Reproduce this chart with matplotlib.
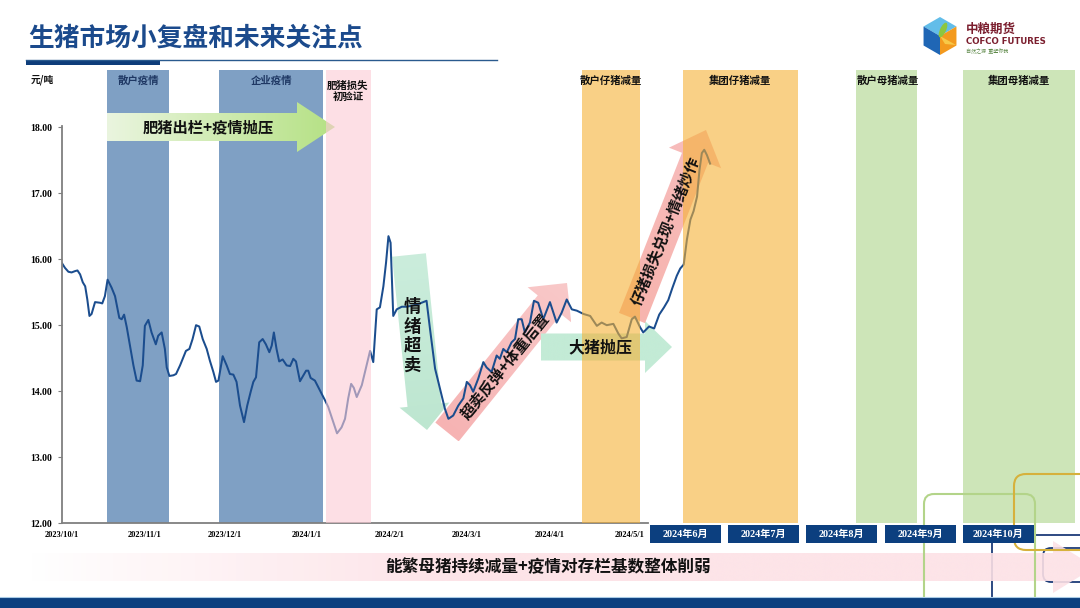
import numpy as np
import pandas as pd
import matplotlib
matplotlib.use('Agg')
import matplotlib.pyplot as plt
import matplotlib.dates as mdates
from matplotlib.patches import Polygon, Rectangle, FancyBboxPatch, Ellipse
from matplotlib.colors import to_rgb

plt.rcParams['font.family'] = ['Noto Sans CJK SC', 'DejaVu Sans']
SERIF = ['Liberation Serif', 'Noto Sans CJK SC']

# ---- data ----
start = pd.Timestamp('2023-10-01')
price_days = np.array([
    0, 1.1, 2.4, 3.6, 4.9, 5.8, 6.8, 7.8, 8.7, 9.5, 10.3, 11.1, 12.4, 14.3, 15.1, 16.1,
    17.1, 18.6, 19.9, 21.5, 22.4, 23.3, 24.3, 25.5, 26.8, 28.0, 29.3, 30.3, 31.1, 32.4,
    33.6, 35.2, 36.1, 37.4, 38.6, 39.3, 40.3, 41.8, 42.8, 44.3, 45.3, 46.5, 47.8, 49.0,
    50.3, 51.5, 52.8, 54.3, 55.5, 56.8, 57.8, 58.7, 60.3, 61.8, 63.0, 64.3, 65.5, 66.8,
    68.3, 69.5, 70.8, 71.8, 72.8, 74.0, 75.3, 76.5, 77.8, 78.7, 79.5, 80.5, 81.5, 82.8,
    84.3, 85.6, 86.8, 87.8, 89.3, 90.6, 91.6, 92.4, 93.3, 94.9, 96.8, 98.7, 99.9, 101.8,
    103.2, 104.9, 106.2, 107.4, 108.5, 109.5, 110.6, 112.5, 114.3, 115.6, 116.8, 118.1,
    119.3, 120.6, 121.6, 122.5, 123.3, 124.3, 125.6, 127.5, 129.3, 131.8, 134.3, 136.8,
    138.1, 140.0, 141.8, 143.7, 145.0, 146.8, 148.7, 150.6, 151.9, 153.1, 154.3, 156.2,
    158.1, 159.3, 161.2, 163.1, 164.3, 165.6, 166.9, 168.7, 170.0, 171.2, 172.5, 173.7,
    175.6, 177.1, 178.7, 180.6, 183.1, 185.6, 187.5, 189.4, 191.3, 193.2, 195.7, 198.2,
    200.7, 202.5, 204.4, 206.9, 208.8, 210.0, 211.9, 213.8, 215.0, 216.9, 218.1, 220.3,
    222.2, 224.1, 225.9, 227.5, 229.0, 230.7, 232.0, 233.3, 234.5, 235.8, 237.0, 238.3,
    239.2, 240.1, 241.0, 242.0, 243.2])
price_values = np.array([
    15.94, 15.87, 15.81, 15.80, 15.82, 15.83, 15.77, 15.65, 15.59, 15.39, 15.14, 15.17,
    15.35, 15.34, 15.33, 15.44, 15.69, 15.57, 15.44, 15.11, 15.09, 15.16, 14.97, 14.69,
    14.39, 14.16, 14.15, 14.39, 14.99, 15.08, 14.89, 14.71, 14.84, 14.89, 14.64, 14.36,
    14.23, 14.24, 14.26, 14.39, 14.49, 14.61, 14.64, 14.79, 15.00, 14.98, 14.79, 14.64,
    14.46, 14.29, 14.14, 14.16, 14.53, 14.39, 14.26, 14.25, 14.14, 13.78, 13.53, 13.78,
    13.99, 14.14, 14.21, 14.74, 14.79, 14.71, 14.59, 14.69, 14.89, 14.64, 14.45, 14.48,
    14.39, 14.38, 14.49, 14.45, 14.15, 14.24, 14.31, 14.31, 14.20, 14.16, 14.01, 13.86,
    13.76, 13.53, 13.36, 13.45, 13.58, 13.89, 14.11, 14.05, 13.91, 14.09, 14.39, 14.61,
    14.44, 15.24, 15.27, 15.59, 15.95, 16.35, 16.25, 15.14, 15.24, 15.28, 15.28, 15.30,
    15.33, 15.37, 14.94, 14.34, 14.04, 13.73, 13.58, 13.63, 13.78, 13.89, 14.14, 14.09,
    13.99, 14.19, 14.44, 14.36, 14.29, 14.54, 14.49, 14.64, 14.59, 14.74, 14.79, 15.09,
    15.09, 14.89, 15.04, 15.37, 15.34, 15.09, 15.35, 15.04, 15.19, 15.39, 15.24, 15.22,
    15.17, 15.14, 14.99, 15.04, 15.00, 15.02, 14.87, 14.80, 14.82, 15.09, 15.13, 14.97,
    14.89, 14.98, 14.95, 15.16, 15.27, 15.38, 15.56, 15.75, 15.86, 15.92, 16.30, 16.60,
    16.73, 16.95, 17.35, 17.61, 17.66, 17.58, 17.45])

tick_dates = ['2023-10-01', '2023-11-01', '2023-12-01', '2024-01-01',
              '2024-02-01', '2024-03-01', '2024-04-01', '2024-05-01']
tick_labels = ['2023/10/1', '2023/11/1', '2023/12/1', '2024/1/1',
               '2024/2/1', '2024/3/1', '2024/4/1', '2024/5/1']
y_ticks = [12, 13, 14, 15, 16, 17, 18]

band_start = ['2023-10-18', '2023-11-29', '2024-01-08', '2024-04-13',
              '2024-05-21', '2024-07-25', '2024-09-03']
band_end = ['2023-11-10', '2024-01-07', '2024-01-25', '2024-05-05',
            '2024-07-03', '2024-08-17', '2024-10-15']
band_labels = ['散户疫情', '企业疫情', '肥猪损失\n初验证', '散户仔猪减量',
               '集团仔猪减量', '散户母猪减量', '集团母猪减量']
band_kind = ['blue', 'blue', 'pink', 'orange', 'orange', 'green', 'green']

month_labels = ['2024年6月', '2024年7月', '2024年8月', '2024年9月', '2024年10月']

# ---- styling ----
band_color = {'blue': '#7fa0c4', 'pink': '#fccbd5', 'orange': '#f5b135', 'green': '#acd589'}
NAVY = '#0c3f7f'
LINE = '#1b4d8e'

W, H = 1080, 608
fig = plt.figure(figsize=(W / 100, H / 100), dpi=100)
fig.patch.set_facecolor('white')


def px_rect(x0, y0, x1, y1):
    return [x0 / W, 1 - y1 / H, (x1 - x0) / W, (y1 - y0) / H]


plot_rect = px_rect(62, 70, 1080, 523)
x_lo, x_hi = start, pd.Timestamp('2024-10-17')
y_lo, y_hi = 12, 18.87

ax_back = fig.add_axes(plot_rect, zorder=1)
ax_art = fig.add_axes([0, 0, 1, 1], zorder=2)
ax = fig.add_axes(plot_rect, zorder=3)
ax_top = fig.add_axes([0, 0, 1, 1], zorder=4)

# bands
for s, e, k in zip(band_start, band_end, band_kind):
    if k == 'blue':
        ax_back.axvspan(pd.Timestamp(s), pd.Timestamp(e), color=band_color[k], lw=0)
    else:
        ax.axvspan(pd.Timestamp(s), pd.Timestamp(e), color=band_color[k], alpha=0.6, lw=0, zorder=3)

# price line
dates = start + pd.to_timedelta(price_days, unit='D')
ax.plot(dates, price_values, color=LINE, lw=1.45, zorder=2)

for a in (ax_back, ax):
    a.set_xlim(x_lo, x_hi)
    a.set_ylim(y_lo, y_hi)
ax_back.set_axis_off()
ax.patch.set_visible(False)
for side in ('top', 'right'):
    ax.spines[side].set_visible(False)
for side in ('left', 'bottom'):
    ax.spines[side].set_color('#7f7f7f')
    ax.spines[side].set_linewidth(1.3)
ax.spines['bottom'].set_bounds(mdates.date2num(start), mdates.date2num(pd.Timestamp('2024-05-08')))
ax.spines['left'].set_bounds(12, 18.02)
ax.set_xticks(pd.to_datetime(tick_dates))
ax.set_xticklabels(tick_labels, fontfamily=SERIF, fontsize=6, fontweight='bold')
ax.set_yticks(y_ticks)
ax.set_yticklabels([f'{v:.2f}' for v in y_ticks], fontfamily=SERIF, fontsize=7, fontweight='bold')
ax.tick_params(axis='x', length=0, pad=6)
ax.tick_params(axis='y', length=3, width=0.8, color='#7f7f7f', pad=4)


# ---- arrows (pixel coordinates) ----
def arrow_verts(x0, y0, x1, y1, bw, hw, hl):
    d = np.array([x1 - x0, y1 - y0], float)
    u = d / np.hypot(*d)
    n = np.array([-u[1], u[0]])
    p0, p1 = np.array([x0, y0], float), np.array([x1, y1], float)
    neck = p1 - u * hl
    return np.array([p0 + n * bw / 2, neck + n * bw / 2, neck + n * hw / 2, p1,
                     neck - n * hw / 2, neck - n * bw / 2, p0 - n * bw / 2])


def grad_arrow(a, x0, y0, x1, y1, bw, hw, hl, c0, c1, ramp=1.0, alpha=1.0, z=1):
    v = arrow_verts(x0, y0, x1, y1, bw, hw, hl)
    poly = Polygon(v, closed=True, fc='none', ec='none', transform=a.transData)
    a.add_patch(poly)
    (xmn, ymn), (xmx, ymx) = v.min(0), v.max(0)
    X, Y = np.meshgrid(np.linspace(xmn, xmx, 300), np.linspace(ymn, ymx, 300))
    t = ((X - x0) * (x1 - x0) + (Y - y0) * (y1 - y0)) / ((x1 - x0) ** 2 + (y1 - y0) ** 2)
    t = np.clip(t * ramp, 0, 1)[..., None]
    img = np.array(to_rgb(c0)) * (1 - t) + np.array(to_rgb(c1)) * t
    im = a.imshow(img, extent=(xmn, xmx, ymx, ymn), origin='upper', aspect='auto',
                  alpha=alpha, zorder=z, interpolation='bilinear')
    im.set_clip_path(poly)


grad_arrow(ax_art, 107, 127, 335, 127, 28, 50, 38, '#eaf5df', '#b5e184')
grad_arrow(ax_art, 409, 255, 427, 430, 34, 50, 25, '#cbeddc', '#bde6d0')
grad_arrow(ax_art, 447, 432, 567, 283, 30, 56, 28, '#f6b3b3', '#f9c9c9')
grad_arrow(ax_art, 541, 347, 672, 347, 27, 52, 27, '#c3ebd6', '#c3ebd6')
grad_arrow(ax_art, 632, 318, 706, 130, 28, 56, 30, '#f7b4ae', '#f7bdbd')
ax_art.set_xlim(0, W)
ax_art.set_ylim(H, 0)
ax_art.set_axis_off()

# ---- top layer: texts and decorations ----
T = ax_top
grad_arrow(T, 30, 567, 1095, 567, 28, 52, 42, '#ffffff', '#fde1e6', ramp=2.6, alpha=0.9, z=2)

# decorative outlines bottom right
T.add_patch(FancyBboxPatch((992, 535), 150, 120, boxstyle='round,pad=0,rounding_size=8',
                           fc='none', ec='#1d3c78', lw=1.3, zorder=1))
T.add_patch(FancyBboxPatch((1043, 548), 90, 34, boxstyle='round,pad=0,rounding_size=8',
                           fc='none', ec='#1d3c78', lw=1.3, zorder=1))
T.add_patch(FancyBboxPatch((924, 494), 111, 150, boxstyle='round,pad=0,rounding_size=10',
                           fc='none', ec='#b3d489', lw=1.5, zorder=4))
T.add_patch(FancyBboxPatch((1014, 474), 120, 76, boxstyle='round,pad=0,rounding_size=12',
                           fc='none', ec='#d6b13c', lw=1.5, zorder=4))

# month boxes
for i, lab in enumerate(month_labels):
    x0 = 650 + i * 78.2
    T.add_patch(Rectangle((x0, 525), 71, 18, fc=NAVY, ec='none', zorder=5))
    T.text(x0 + 35.5, 534, lab, color='white', fontsize=7.3, fontweight='bold',
           family=SERIF, ha='center', va='center', zorder=6)

T.text(548, 567, '能繁母猪持续减量+疫情对存栏基数整体削弱', fontsize=12, fontweight='bold',
       color='#111111', ha='center', va='center', zorder=5)

# bottom bar
T.add_patch(Rectangle((0, 597), W, 11, fc=NAVY, ec='none', zorder=6))
T.plot([0, W], [596.5, 596.5], color='#a9cbe6', lw=0.8, zorder=6)

# band labels
band_x = [138, 272, 348, 611, 740, 888, 1019]
for x, lab, k in zip(band_x, band_labels, band_kind):
    T.text(x, 81, lab, fontsize=7.5, fontweight='bold', ha='center', va='top' if '\n' in lab else 'center',
           color='#1f3864' if k == 'blue' else '#111111', linespacing=1.15, zorder=5)
T.text(42, 80, '元/吨', fontsize=7, fontweight='bold', ha='center', va='center', color='#111111')

# arrow texts
T.text(208, 127, '肥猪出栏+疫情抛压', fontsize=11, fontweight='bold', ha='center', va='center', color='#111111')
for i, ch in enumerate('情绪超卖'):
    T.text(412, 307 + i * 19.5, ch, fontsize=12.5, fontweight='bold', ha='center', va='center', color='#111111')
T.text(505, 366, '超卖反弹+体重后置', fontsize=11, fontweight='bold', ha='center', va='center',
       rotation=51, rotation_mode='anchor', color='#111111')
T.text(600, 347, '大猪抛压', fontsize=11.5, fontweight='bold', ha='center', va='center', color='#111111')
T.text(665, 231, '仔猪损失兑现+情绪炒作', fontsize=10.8, fontweight='bold', ha='center', va='center',
       rotation=68, rotation_mode='anchor', color='#111111')

# title
T.text(28, 38, '生猪市场小复盘和未来关注点', fontsize=18.5, fontweight='bold', color='#1b4a8c',
       ha='left', va='center')
T.plot([26, 497], [60, 60], color='#2a5a8e', lw=1.0)
T.add_patch(Rectangle((26, 59.5), 134, 5.5, fc='#0e3d7a', ec='none'))

# logo
cx, cy, r = 940, 36, 19
hexp = [(cx + r * np.cos(np.radians(a)), cy + r * np.sin(np.radians(a))) for a in (-90, -30, 30, 90, 150, 210)]
c = (cx, cy)
T.add_patch(Polygon([hexp[0], hexp[1], c, hexp[5]], fc='#62bde9', ec='none'))
T.add_patch(Polygon([hexp[5], c, hexp[3], hexp[4]], fc='#1f66b5', ec='none'))
T.add_patch(Polygon([hexp[1], hexp[2], hexp[3], c], fc='#f39a1e', ec='none'))
T.add_patch(Polygon([(cx, cy), (cx + 5, cy + 8), (cx + 16, cy + 9)], fc='#f7c948', ec='none'))
T.add_patch(Ellipse((cx + 3, cy - 6), 6, 16, angle=25, fc='#8dc63f', ec='none'))
T.text(966, 29, '中粮期货', fontsize=9, fontweight='bold', color='#7b1e2e', ha='left', va='center')
T.text(966, 42, 'COFCO FUTURES', fontsize=6.2, fontweight='bold', family=['DejaVu Sans'],
       color='#7b1e2e', ha='left', va='center')
T.text(966, 51, '自然之源  重塑你我', fontsize=3.6, color='#5f8a4a', ha='left', va='center')

T.set_xlim(0, W)
T.set_ylim(H, 0)
T.set_axis_off()

fig.savefig('out.png', dpi=100)
